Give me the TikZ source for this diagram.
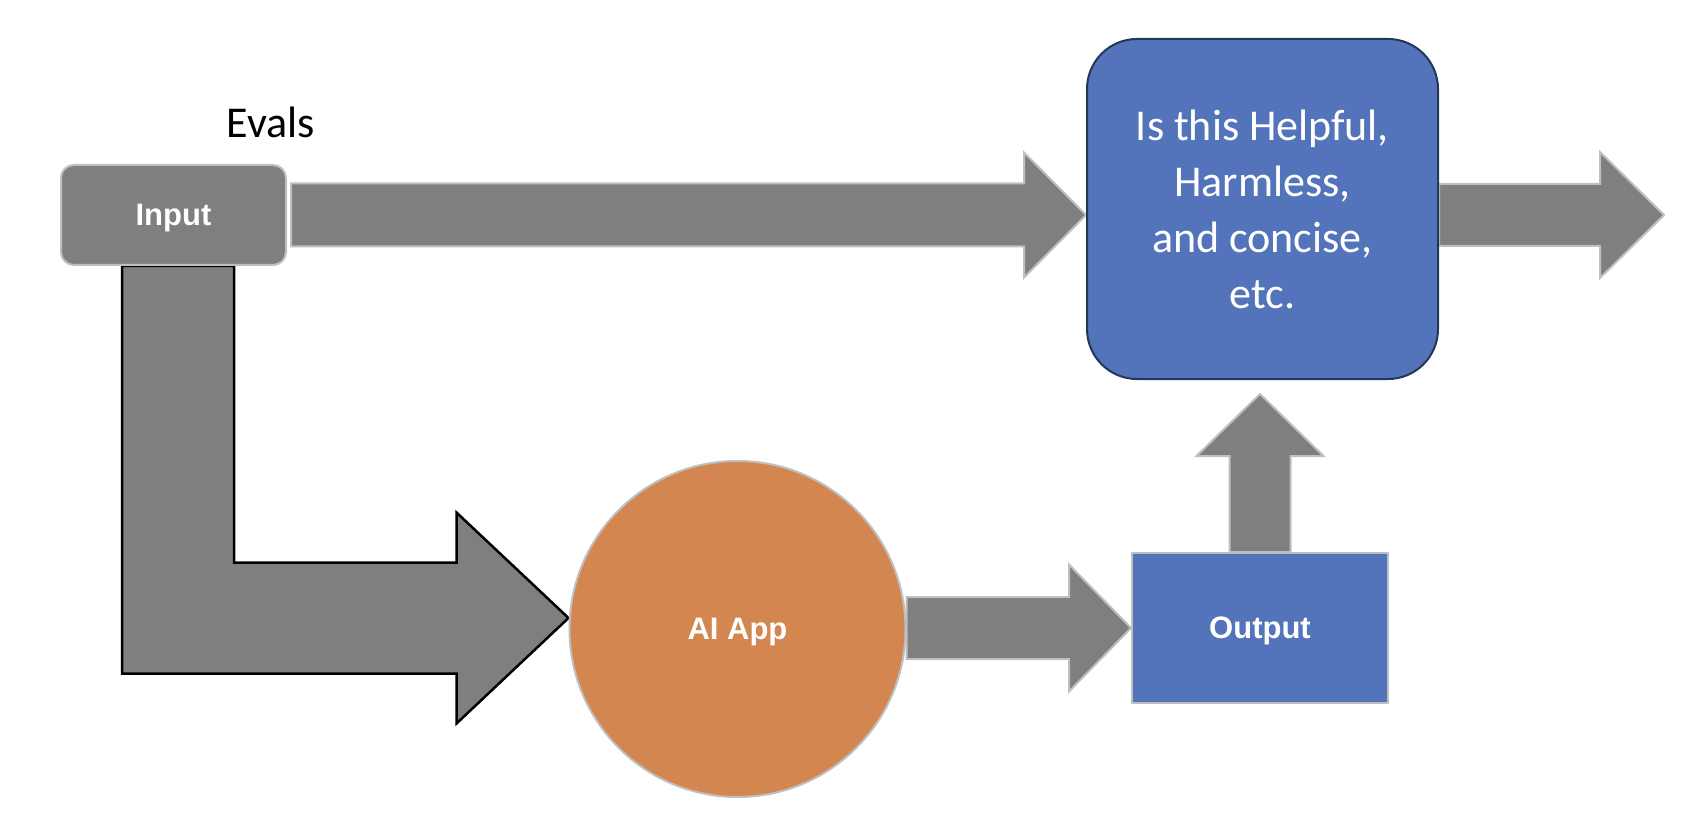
\documentclass[tikz,border=0pt]{standalone}
\usepackage{fontspec}
\usetikzlibrary{calc,backgrounds}
\newfontfamily\calibfont{Carlito}
\newfontfamily\arialfont{Liberation Sans}
\definecolor{boxgray}{HTML}{7F7F7F}
\definecolor{edgegray}{HTML}{BFBFBF}
\definecolor{boxblue}{HTML}{5374BA}
\definecolor{navyedge}{HTML}{263659}
\definecolor{apporange}{HTML}{D3864F}
% right-pointing block arrow: #1 style, #2 start, #3 tip, #4 shaft half width, #5 head half width, #6 head length
\newcommand{\blockR}[6]{%
  \draw[#1] ($(#2)+(0,-#4)$) -- ($(#3)+(-#6,-#4)$) -- ($(#3)+(-#6,-#5)$) -- (#3)
    -- ($(#3)+(-#6,#5)$) -- ($(#3)+(-#6,#4)$) -- ($(#2)+(0,#4)$) -- cycle;}
% upward block arrow (y axis points down)
\newcommand{\blockU}[6]{%
  \draw[#1] ($(#2)+(-#4,0)$) -- ($(#3)+(-#4,#6)$) -- ($(#3)+(-#5,#6)$) -- (#3)
    -- ($(#3)+(#5,#6)$) -- ($(#3)+(#4,#6)$) -- ($(#2)+(#4,0)$) -- cycle;}
\tikzset{
  blockarrow/.style={fill=boxgray, draw=edgegray, line width=2pt, line join=miter},
  bentarrow/.style={fill=boxgray, draw=black, line width=2.5pt, line join=miter},
  boldlabel/.style={text=white, font=\arialfont\bfseries\fontsize{31}{37}\selectfont, text depth=0pt},
  inputbox/.style={boldlabel, fill=boxgray, draw=edgegray, line width=2pt, rounded corners=13pt,
    minimum width=225pt, minimum height=100pt, inner sep=0pt},
  judgebox/.style={fill=boxblue, draw=navyedge, line width=2pt, rounded corners=50pt,
    minimum width=351pt, minimum height=340pt, inner sep=0pt, text=white, align=center,
    font=\calibfont\fontsize{44}{56}\selectfont},
  appcircle/.style={boldlabel, circle, fill=apporange, draw=edgegray, line width=2pt,
    minimum size=336pt, inner sep=0pt},
  outputbox/.style={boldlabel, fill=boxblue, draw=edgegray, line width=2pt,
    minimum width=256pt, minimum height=150pt, inner sep=0pt},
  titletext/.style={font=\calibfont\fontsize{44}{52}\selectfont, text=black, text depth=0pt, inner sep=0pt}
}
\begin{document}
\begin{tikzpicture}[x=1pt,y=-1pt]
\useasboundingbox (0,0) rectangle (1684,826);

\node[titletext] (evals) at (271,122) {Evals};
\node[inputbox] (input) at (173.5,215) {Input};
\node[judgebox] (judge) at (1262.5,209) {Is this Helpful,\\Harmless,\\and concise,\\etc.};
\node[appcircle] (app) at (737.5,629) {AI App};
\node[outputbox] (output) at (1260,628) {Output};

\coordinate (topstart) at ($(input.east |- 0,215)+(4,0)$);
\coordinate (toptip) at (judge.west |- topstart);
\coordinate (rightstart) at (judge.east |- topstart);
\coordinate (rightend) at (1664,215);
\coordinate (appstart) at (app.east |- output.west);
\coordinate (uptip) at ($(judge.south -| output.north)+(0,14)$);
\coordinate (bendtip) at ($(app.west)+(0,-11)$);
\coordinate (bendA) at ($(input.south)+(-51.5,0)$);
\coordinate (bendB) at ($(input.south)+(60.5,0)$);

\begin{scope}[on background layer]
  \blockR{blockarrow}{topstart}{toptip}{31.5}{62.5}{62}
  \blockR{blockarrow}{rightstart}{rightend}{31}{63}{64}
  \blockR{blockarrow}{appstart}{output.west}{31}{63.5}{62}
  \blockU{blockarrow}{output.north}{uptip}{30.5}{63.5}{62}
  \draw[bentarrow] (bendA) -- (bendB) |- ($(bendtip)+(-112,-55.5)$)
    -- ($(bendtip)+(-112,-105.5)$) -- (bendtip) -- ($(bendtip)+(-112,105.5)$)
    -- ($(bendtip)+(-112,55.5)$) -| (bendA) -- cycle;
\end{scope}
\end{tikzpicture}
\end{document}
